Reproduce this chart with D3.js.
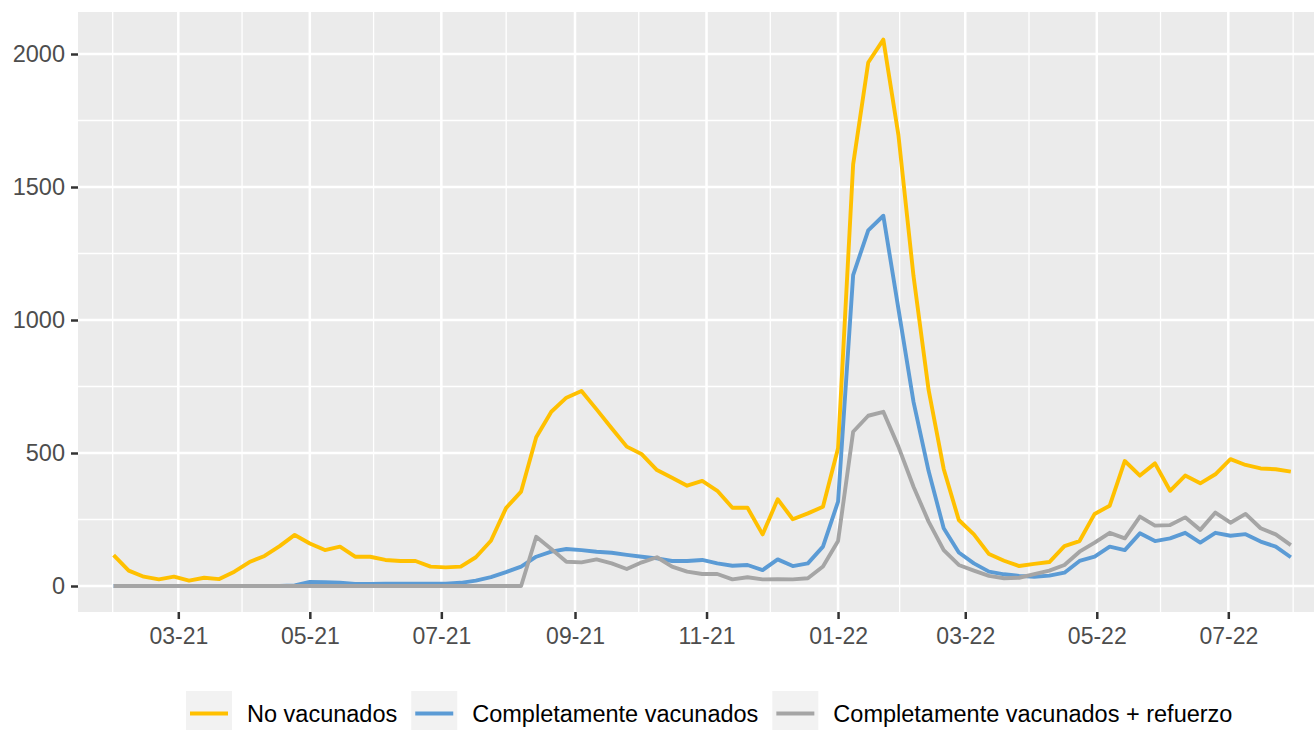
<!DOCTYPE html>
<html>
<head>
<meta charset="utf-8">
<script src="https://cdn.jsdelivr.net/npm/d3@7"></script>
<style>
  html, body { margin: 0; padding: 0; background: #ffffff; }
  svg { display: block; font-family: "Liberation Sans", Arial, sans-serif; }
</style>
</head>
<body>
<svg id="chart" width="1314" height="730"></svg>
<script>
// ---- Data ----
const seriesNames = ["No vacunados", "Completamente vacunados", "Completamente vacunados + refuerzo"];
const seriesColors = ["#FFC000", "#5B9BD5", "#A5A5A5"];

// weekly dates (categories)
const startDate = "2021-01-30";
const endDate = "2022-07-31";

const noVacunados = [116, 58, 35, 25, 35, 20, 31, 26, 54, 90, 113, 150, 192, 160, 135, 148, 110, 110, 98, 94,
  94, 73, 70, 73, 108, 170, 293, 355, 559, 655, 708, 733, 664, 593, 524, 495, 436, 407, 377, 395,
  358, 294, 294, 194, 326, 251, 273, 298, 518, 1585, 1968, 2054, 1695, 1165, 737, 440, 248, 194, 120, 95,
  75, 83, 90, 150, 169, 271, 302, 470, 415, 461, 358, 415, 386, 420, 477, 455, 442, 439, 430];

const completos = [0, 0, 0, 0, 0, 0, 0, 0, 0, 0, 0, 0, 2, 15, 14, 12, 8, 8, 9, 9,
  9, 9, 9, 12, 20, 33, 52, 73, 110, 129, 139, 135, 129, 125, 117, 110, 104, 94, 94, 98,
  85, 76, 79, 60, 100, 75, 85, 148, 317, 1169, 1337, 1392, 1042, 692, 432, 217, 126, 85, 54, 44,
  38, 35, 39, 50, 94, 110, 148, 135, 198, 169, 179, 200, 163, 200, 189, 195, 167, 148, 108];

const refuerzo = [0, 0, 0, 0, 0, 0, 0, 0, 0, 0, 0, 0, 0, 0, 0, 0, 0, 0, 0, 0,
  0, 0, 0, 0, 0, 0, 0, 0, 185, 139, 91, 89, 100, 85, 64, 89, 108, 73, 54, 45,
  45, 25, 33, 25, 26, 25, 29, 73, 169, 580, 640, 655, 524, 373, 242, 135, 79, 58, 38, 29,
  31, 45, 58, 79, 129, 163, 200, 179, 261, 227, 229, 258, 211, 276, 238, 271, 217, 194, 154];

const yTicks = [0, 500, 1000, 1500, 2000];
const yMinor = [250, 750, 1250, 1750];

// ---- Setup ----
const parse = d3.timeParse("%Y-%m-%d");
const dates = d3.timeDay.range(parse(startDate), parse(endDate), 7);
const allSeries = [noVacunados, completos, refuerzo];

const svg = d3.select("#chart");
const panel = { left: 78, right: 1314, top: 12, bottom: 612 };

const x = d3.scaleTime()
  .domain([parse("2021-03-01"), parse("2022-07-01")])
  .range([178.3, 1228.3]);
const y = d3.scaleLinear().domain([0, 2000]).range([586, 54]);

const xMajor = d3.timeMonth.every(2).range(parse("2021-01-01"), parse("2022-11-01"));
const xMinor = d3.pairs(xMajor).map(([a, b]) => new Date((a.getTime() + b.getTime()) / 2));
const inPanel = v => v >= panel.left && v <= panel.right;

// panel bg
svg.append("rect")
  .attr("x", panel.left).attr("y", panel.top)
  .attr("width", panel.right - panel.left).attr("height", panel.bottom - panel.top)
  .attr("fill", "#EBEBEB");

const grid = svg.append("g");
// minor grid
grid.selectAll(".hmin").data(yMinor).join("line")
  .attr("x1", panel.left).attr("x2", panel.right)
  .attr("y1", d => y(d)).attr("y2", d => y(d))
  .attr("stroke", "#fff").attr("stroke-width", 1.3);
grid.selectAll(".vmin").data(xMinor.filter(d => inPanel(x(d)))).join("line")
  .attr("x1", d => x(d) - 2).attr("x2", d => x(d) - 2)
  .attr("y1", panel.top).attr("y2", panel.bottom)
  .attr("stroke", "#fff").attr("stroke-width", 1.3);
// major grid
grid.selectAll(".hmaj").data(yTicks).join("line")
  .attr("x1", panel.left).attr("x2", panel.right)
  .attr("y1", d => y(d)).attr("y2", d => y(d))
  .attr("stroke", "#fff").attr("stroke-width", 2.5);
const xTicksIn = xMajor.filter(d => inPanel(x(d)));
grid.selectAll(".vmaj").data(xTicksIn).join("line")
  .attr("x1", d => x(d)).attr("x2", d => x(d))
  .attr("y1", panel.top).attr("y2", panel.bottom)
  .attr("stroke", "#fff").attr("stroke-width", 2.5);

// lines
svg.append("clipPath").attr("id", "clip").append("rect")
  .attr("x", panel.left).attr("y", panel.top)
  .attr("width", panel.right - panel.left).attr("height", panel.bottom - panel.top);

const line = d3.line().x((d, i) => x(dates[i])).y(d => y(d));
const lines = svg.append("g").attr("clip-path", "url(#clip)");
allSeries.forEach((s, k) => {
  lines.append("path")
    .attr("d", line(s))
    .attr("fill", "none")
    .attr("stroke", seriesColors[k])
    .attr("stroke-width", 3.9)
    .attr("stroke-linejoin", "round")
    .attr("stroke-linecap", "butt");
});

// y axis
const yAxis = d3.axisLeft(y).tickValues(yTicks).tickSize(7).tickPadding(6).tickFormat(d3.format("d"));
const gy = svg.append("g").attr("transform", `translate(${panel.left},0)`).call(yAxis);
gy.select(".domain").remove();
gy.selectAll(".tick line").attr("stroke", "#333333").attr("stroke-width", 2.5);
gy.selectAll(".tick text").attr("fill", "#4D4D4D").attr("font-size", 23.5)
  .attr("font-family", "Liberation Sans, Arial, sans-serif");

// x axis
const xAxis = d3.axisBottom(x).tickValues(xTicksIn).tickSize(7).tickPadding(9)
  .tickFormat(d3.timeFormat("%m-%y"));
const gx = svg.append("g").attr("transform", `translate(0,${panel.bottom})`).call(xAxis);
gx.select(".domain").remove();
gx.selectAll(".tick line").attr("stroke", "#333333").attr("stroke-width", 2.5);
gx.selectAll(".tick text").attr("fill", "#4D4D4D").attr("font-size", 23)
  .attr("font-family", "Liberation Sans, Arial, sans-serif");

// legend
const legend = svg.append("g");
let lx = 186;
const keyTop = 691, keySize = 46;
seriesNames.forEach((name, k) => {
  legend.append("rect").attr("x", lx).attr("y", keyTop)
    .attr("width", keySize).attr("height", keySize).attr("fill", "#F2F2F2");
  legend.append("line")
    .attr("x1", lx + 4).attr("x2", lx + keySize - 4)
    .attr("y1", keyTop + keySize / 2 - 0.5).attr("y2", keyTop + keySize / 2 - 0.5)
    .attr("stroke", seriesColors[k]).attr("stroke-width", 3.9);
  const t = legend.append("text")
    .attr("x", lx + keySize + 15).attr("y", keyTop + keySize / 2 - 0.5)
    .attr("dy", "0.35em")
    .attr("font-size", 23.5).attr("fill", "#000")
    .text(name);
  const w = t.node().getComputedTextLength();
  lx = lx + keySize + 15 + w + 14;
});
</script>
</body>
</html>
